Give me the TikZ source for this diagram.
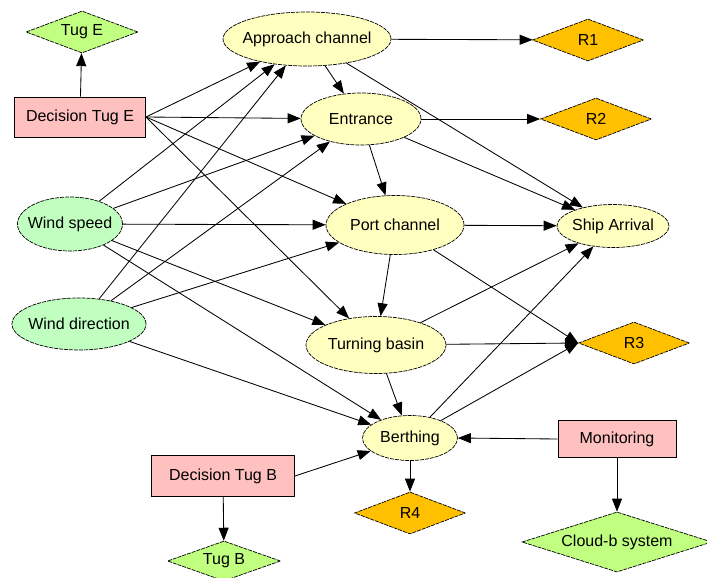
\documentclass[tikz,border=0pt]{standalone}
\usepackage{fontspec}
\setmainfont{Liberation Sans}
\usetikzlibrary{shapes.geometric,arrows.meta}
\definecolor{yell}{HTML}{FFFFC0}
\definecolor{mint}{HTML}{C0FFC0}
\definecolor{pinkf}{HTML}{FFC0C0}
\definecolor{lime}{HTML}{C0FF80}
\definecolor{orng}{HTML}{FFC000}
\newcommand{\zt}[1]{\makebox[0pt][c]{#1}}
\begin{document}
\begin{tikzpicture}[x=1pt,y=-1pt,
  every node/.style={font=\fontsize{16}{18}\selectfont, inner sep=0pt},
  ell/.style={ellipse, draw, line width=0.7pt, dash pattern=on 4pt off 1pt},
  yel/.style={ell, fill=yell},
  grn/.style={ell, fill=mint},
  dia/.style={diamond, draw, line width=0.7pt, dash pattern=on 4pt off 1pt},
  resd/.style={dia, fill=orng, minimum width=111, minimum height=42},
  tugd/.style={dia, fill=lime},
  dec/.style={rectangle, draw, line width=0.9pt, fill=pinkf},
  arr/.style={draw, line width=0.85pt, -{Triangle[length=13pt,width=10pt]}}
]
\useasboundingbox (0,0) rectangle (707,578);
\fill[white] (0,0) rectangle (707,578);

% nodes
\node[tugd, minimum width=112, minimum height=42] (tuge) at (82,32) {\zt{Tug E}};
\node[dec, minimum width=131, minimum height=40] (dte) at (80,117) {\zt{Decision Tug E}};
\node[yel, minimum width=168, minimum height=54] (app) at (307,39) {\zt{Approach channel}};
\node[resd] (r1) at (588,40) {\zt{R1}};
\node[yel, minimum width=120, minimum height=52] (ent) at (361,119) {\zt{Entrance}};
\node[resd] (r2) at (596,119) {\zt{R2}};
\node[grn, minimum width=105, minimum height=54] (ws) at (70,224) {\zt{Wind speed}};
\node[yel, minimum width=138, minimum height=59] (port) at (395,225) {\zt{Port channel}};
\node[yel, minimum width=112, minimum height=43] (ship) at (613,226) {\zt{Ship Arrival}};
\node[grn, minimum width=134, minimum height=52] (wd) at (79,324) {\zt{Wind direction}};
\node[yel, minimum width=140, minimum height=57] (turn) at (376,345) {\zt{Turning basin}};
\node[resd] (r3) at (634,343) {\zt{R3}};
\node[yel, minimum width=95, minimum height=45] (berth) at (410,438) {\zt{Berthing}};
\node[dec, minimum width=143, minimum height=41] (dtb) at (223,476) {\zt{Decision Tug B}};
\node[tugd, minimum width=113, minimum height=40] (tugb) at (224,561) {\zt{Tug B}};
\node[resd] (r4) at (410,513) {\zt{R4}};
\node[dec, minimum width=118, minimum height=37] (mon) at (617,439) {\zt{Monitoring}};
\node[tugd, minimum width=190, minimum height=60] (cloud) at (617,542) {\zt{Cloud-b system}};

% edges
\draw[arr] (dte) -- (tuge);
\draw[arr] (app) -- (r1);
\draw[arr] (app) -- (ent);
\draw[arr] (app) -- (ship);
\draw[arr] (ent) -- (r2);
\draw[arr] (ent) -- (port);
\draw[arr] (ent) -- (ship);
\draw[arr] (dte.east) -- (app);
\draw[arr] (dte.east) -- (ent);
\draw[arr] (dte.east) -- (port);
\draw[arr] (dte.east) -- (turn);
\draw[arr] (ws) -- (app);
\draw[arr] (ws) -- (ent);
\draw[arr] (ws) -- (port);
\draw[arr] (ws) -- (turn);
\draw[arr] (ws) -- (berth);
\draw[arr] (wd) -- (app);
\draw[arr] (wd) -- (ent);
\draw[arr] (wd) -- (port);
\draw[arr] (wd) -- (berth);
\draw[arr] (port) -- (ship);
\draw[arr] (port) -- (turn);
\draw[arr] (port) -- (r3.west);
\draw[arr] (turn) -- (ship);
\draw[arr] (turn) -- (r3.west);
\draw[arr] (turn) -- (berth);
\draw[arr] (berth) -- (ship);
\draw[arr] (berth) -- (r3.west);
\draw[arr] (berth) -- (r4);
\draw[arr] (dtb.east) -- (berth);
\draw[arr] (dtb) -- (tugb);
\draw[arr] (mon.west) -- (berth.east);
\draw[arr] (mon) -- (cloud);
\end{tikzpicture}
\end{document}
